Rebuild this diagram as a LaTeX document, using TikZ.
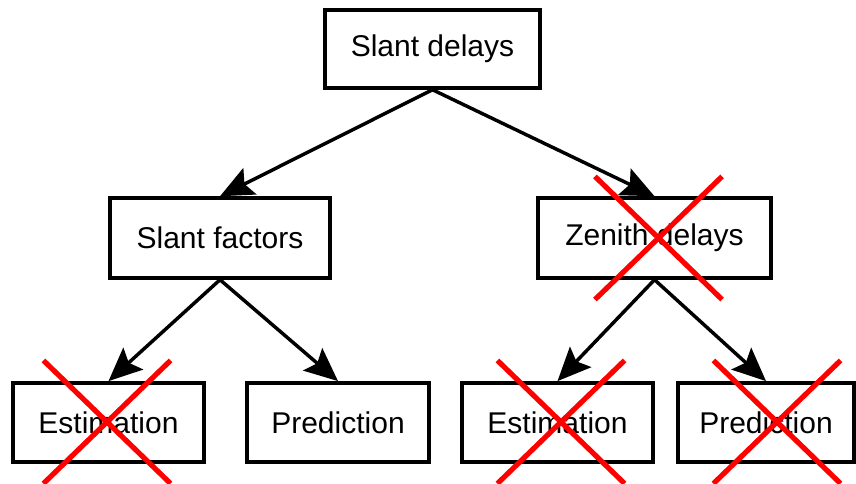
\documentclass[tikz,border=0pt]{standalone}
\usepackage{fontspec}
\setmainfont{Liberation Sans}
\usetikzlibrary{arrows.meta,shapes.misc}
\tikzset{box/.style={draw,line width=2.6pt,inner sep=0pt,align=center,minimum height=59.5pt,font=\fontsize{22.5}{27}\selectfont},
  arr/.style={line width=2.6pt,-{Stealth[length=25pt,width=22pt,inset=4.5pt]}},
  nope/.style={cross out,draw=red,line width=3.9pt,inner sep=0pt,minimum width=91.5pt,minimum height=88.5pt}}

\begin{document}
\begin{tikzpicture}[x=0.75pt,y=-0.75pt]
\useasboundingbox (0,0) rectangle (856,484);

\node[box,minimum width=161.25pt,minimum height=58.5pt] (sd) at (432.5,49) {Slant delays};
\node[box,minimum width=165pt,minimum height=60pt] (sf) at (220,238) {Slant factors};
\node[box,minimum width=174.75pt,minimum height=60pt] (zd) at (654.5,238) {Zenith delays};
\node[box,minimum width=143.25pt] (estl) at (108.5,422.5) {Estimation};
\node[box,minimum width=136.5pt] (predl) at (338,422.5) {Prediction};
\node[box,minimum width=143.25pt] (estr) at (557.5,422.5) {Estimation};
\node[box,minimum width=132pt] (predr) at (766,422.5) {Prediction};

\draw[arr] (sd.south) -- (sf.north);
\draw[arr] (sd.south) -- (zd.north);
\draw[arr] (sf.south) -- (estl.north);
\draw[arr] (sf.south) -- (predl.north);
\draw[arr] (zd.south) -- (estr.north);
\draw[arr] (zd.south) -- (predr.north);

\node[nope] (xzd) at (658.5,238) {};
\node[nope] (xestl) at (107,422) {};
\node[nope] (xestr) at (561,422) {};
\node[nope] (xpredr) at (777,422) {};
\end{tikzpicture}
\end{document}
